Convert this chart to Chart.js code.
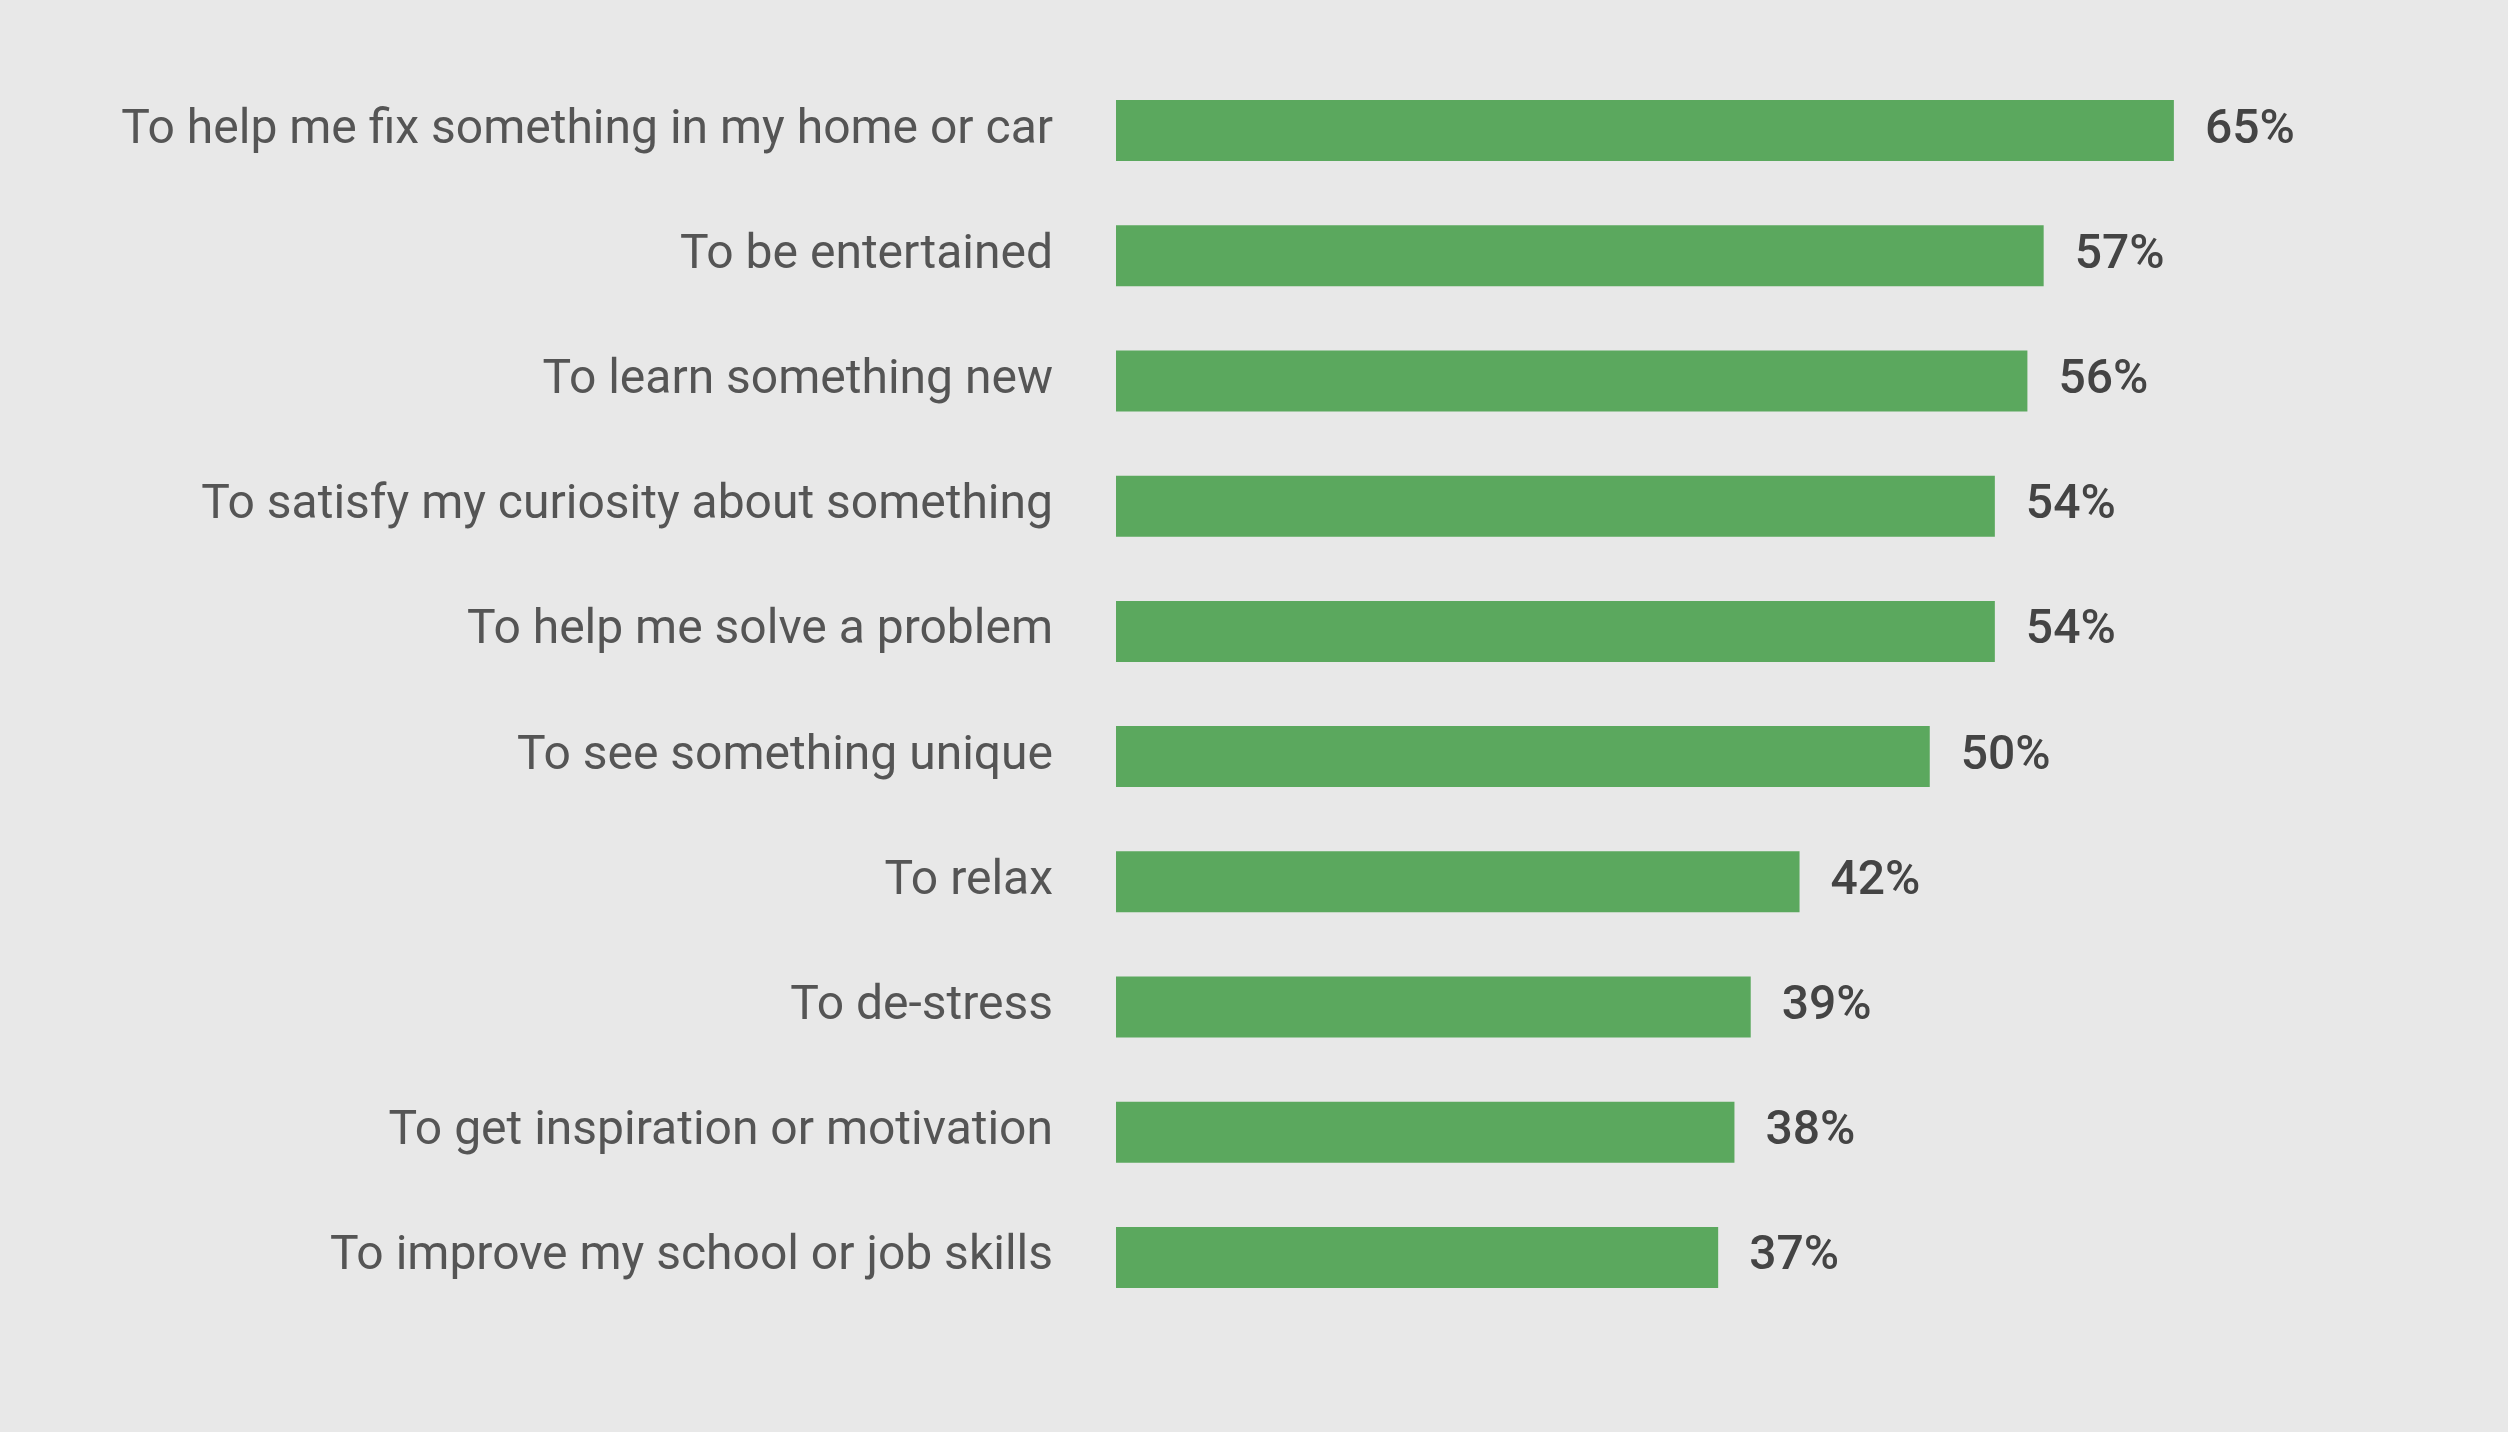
<!DOCTYPE html>
<html>
<head>
<meta charset="utf-8">
<script src="https://cdn.jsdelivr.net/npm/chart.js@4/dist/chart.umd.min.js"></script>
<style>
  html, body { margin: 0; padding: 0; background: #e8e8e8; }
  #wrap { width: 2508px; height: 1432px; }
</style>
</head>
<body>
<div id="wrap"><canvas id="chart" width="2508" height="1432"></canvas></div>
<script>
const categories = [
    "To help me fix something in my home or car",
    "To be entertained",
    "To learn something new",
    "To satisfy my curiosity about something",
    "To help me solve a problem",
    "To see something unique",
    "To relax",
    "To de-stress",
    "To get inspiration or motivation",
    "To improve my school or job skills"
];
const values = [65, 57, 56, 54, 54, 50, 42, 39, 38, 37];

// draws "65%" etc. just right of each bar
const valueLabels = {
    id: 'valueLabels',
    afterDatasetsDraw(chart) {
        const ctx = chart.ctx;
        const meta = chart.getDatasetMeta(0);
        ctx.save();
        ctx.font = '500 48px Roboto';
        ctx.fillStyle = '#444444';
        ctx.textAlign = 'left';
        ctx.textBaseline = 'middle';
        meta.data.forEach((bar, i) => {
            ctx.fillText(values[i] + '%', bar.x + 31, bar.y);
        });
        ctx.restore();
    }
};

new Chart(document.getElementById('chart'), {
    type: 'bar',
    data: {
        labels: categories,
        datasets: [{
            data: values,
            backgroundColor: '#5ba85e',
            borderWidth: 0,
            categoryPercentage: 1,
            barPercentage: 0.487
        }]
    },
    options: {
        indexAxis: 'y',
        responsive: false,
        devicePixelRatio: 1,
        animation: false,
        layout: { padding: { top: 68, bottom: 112, left: 0, right: 90 } },
        plugins: { legend: { display: false }, tooltip: { enabled: false } },
        scales: {
            x: { display: false, min: 0, max: 80 },
            y: {
                grid: { display: false, drawTicks: false },
                border: { display: false },
                ticks: {
                    padding: 63,
                    color: '#555555',
                    font: { family: 'Roboto', size: 48, weight: 400 }
                },
                afterFit(scale) {
                    scale.width = 1116;
                    // the tick padding would otherwise push the plot area down
                    scale.paddingTop = 0;
                    scale.paddingBottom = 0;
                }
            }
        }
    },
    plugins: [valueLabels]
});
</script>
</body>
</html>
